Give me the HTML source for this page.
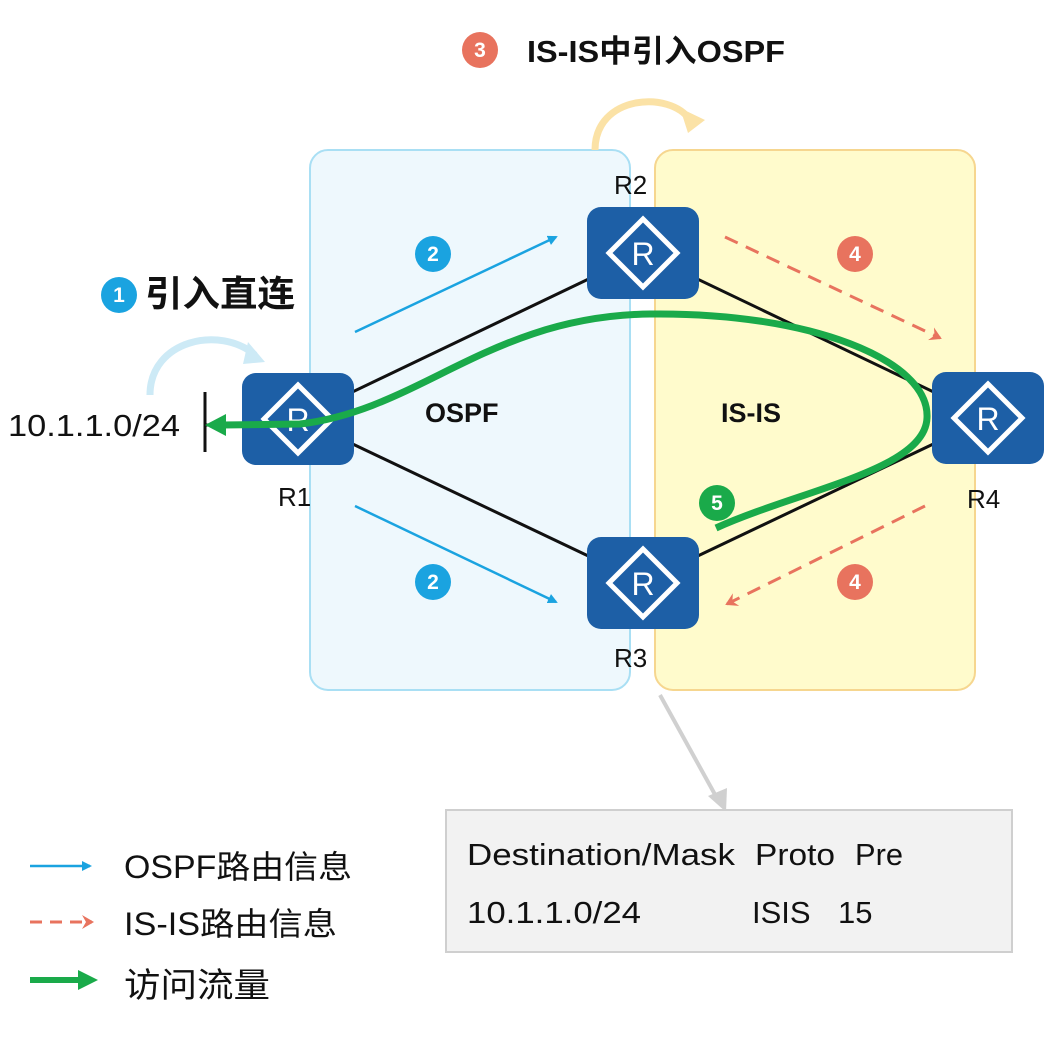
<!DOCTYPE html>
<html><head><meta charset="utf-8"><style>
body{margin:0;background:#fff;width:1061px;height:1034px;overflow:hidden}
text{font-family:"Liberation Sans","Noto Sans CJK SC",sans-serif}
</style></head><body>
<svg width="1061" height="1034" viewBox="0 0 1061 1034" xmlns="http://www.w3.org/2000/svg">
<defs>
<g id="rt">
<rect x="0" y="0" width="112" height="92" rx="14" fill="#1d5fa6"/>
<polygon points="56,12 90,46 56,80 22,46" fill="none" stroke="#fff" stroke-width="5"/>
<text x="56" y="58" font-size="32" fill="#fff" text-anchor="middle">R</text>
</g>
<marker id="ab" markerWidth="10" markerHeight="10" refX="8" refY="5" orient="auto" markerUnits="userSpaceOnUse"><path d="M0,0 L10,5 L0,10 z" fill="#1aa3e0"/></marker>
<marker id="ar" markerWidth="14" markerHeight="14" refX="10" refY="7" orient="auto" markerUnits="userSpaceOnUse"><path d="M0,0 L12,7 L0,14 L4,7z" fill="#e8735e"/></marker>
</defs>
<rect x="310" y="150" width="320" height="540" rx="18" fill="#eef8fd" stroke="#a9dff4" stroke-width="2"/>
<rect x="655" y="150" width="320" height="540" rx="18" fill="#fffbcc" stroke="#f6d68f" stroke-width="2"/>
<path d="M595,150 C595,95 670,90 690,120" fill="none" stroke="#fbe2a6" stroke-width="7"/>
<polygon points="680,108 705,120 688,133" fill="#fbe2a6"/>
<path d="M150,395 C150,340 220,325 255,355" fill="none" stroke="#cdeaf6" stroke-width="7"/>
<polygon points="248,342 265,362 243,364" fill="#cdeaf6"/>
<g stroke="#111" stroke-width="3">
<line x1="298" y1="418" x2="643" y2="253"/><line x1="298" y1="418" x2="643" y2="582"/>
<line x1="643" y1="253" x2="988" y2="418"/><line x1="643" y1="582" x2="988" y2="418"/>
<line x1="205" y1="392" x2="205" y2="452"/><line x1="205" y1="425" x2="245" y2="425"/>
</g>
<line x1="355" y1="332" x2="556" y2="237" stroke="#1aa3e0" stroke-width="2.5" marker-end="url(#ab)"/>
<line x1="355" y1="506" x2="556" y2="602" stroke="#1aa3e0" stroke-width="2.5" marker-end="url(#ab)"/>
<line x1="725" y1="237" x2="940" y2="338" stroke="#e8735e" stroke-width="3" stroke-dasharray="14,9" marker-end="url(#ar)"/>
<line x1="925" y1="506" x2="727" y2="604" stroke="#e8735e" stroke-width="3" stroke-dasharray="14,9" marker-end="url(#ar)"/>
<use href="#rt" x="587" y="207"/><use href="#rt" x="242" y="373"/><use href="#rt" x="587" y="537"/><use href="#rt" x="932" y="372"/>
<path d="M716,528 C800,490 925,470 927,418 C930,360 810,312 650,314 C490,316 420,410 300,424 L222,425" fill="none" stroke="#1aaa4a" stroke-width="7"/>
<polygon points="205,425 226,414 226,436" fill="#1aaa4a"/>
<g font-size="26" fill="#111">
<text x="614" y="194">R2</text><text x="278" y="506">R1</text><text x="614" y="667">R3</text><text x="967" y="508">R4</text>
<text x="8" y="436" font-size="31" textLength="172" lengthAdjust="spacingAndGlyphs">10.1.1.0/24</text>
<text x="425" y="422" font-weight="bold" font-size="27">OSPF</text>
<text x="721" y="422" font-weight="bold" font-size="27">IS-IS</text>
</g>
<g font-weight="bold" fill="#fff" font-size="21" text-anchor="middle">
<circle cx="119" cy="295" r="18" fill="#1aa3e0"/><text x="119" y="302">1</text>
<circle cx="433" cy="254" r="18" fill="#1aa3e0"/><text x="433" y="261">2</text>
<circle cx="433" cy="582" r="18" fill="#1aa3e0"/><text x="433" y="589">2</text>
<circle cx="480" cy="50" r="18" fill="#e8735e"/><text x="480" y="57">3</text>
<circle cx="855" cy="254" r="18" fill="#e8735e"/><text x="855" y="261">4</text>
<circle cx="855" cy="582" r="18" fill="#e8735e"/><text x="855" y="589">4</text>
<circle cx="717" cy="503" r="18" fill="#1aaa4a"/><text x="717" y="510">5</text>
</g>
<text x="145" y="306" font-size="36" font-weight="bold" fill="#111" textLength="150" lengthAdjust="spacingAndGlyphs">引入直连</text>
<text x="527" y="62" font-size="31" font-weight="bold" fill="#111" textLength="258" lengthAdjust="spacingAndGlyphs">IS-IS中引入OSPF</text>
<line x1="660" y1="695" x2="718" y2="800" stroke="#d0d0d0" stroke-width="4"/>
<polygon points="708,796 726,812 727,788" fill="#d0d0d0"/>
<rect x="446" y="810" width="566" height="142" fill="#f2f2f2" stroke="#cfcfcf" stroke-width="2"/>
<g font-size="31" fill="#111">
<text x="467" y="865" textLength="268" lengthAdjust="spacingAndGlyphs">Destination/Mask</text><text x="755" y="865" textLength="80" lengthAdjust="spacingAndGlyphs">Proto</text><text x="855" y="865" textLength="48" lengthAdjust="spacingAndGlyphs">Pre</text>
<text x="467" y="923" textLength="174" lengthAdjust="spacingAndGlyphs">10.1.1.0/24</text><text x="752" y="923">ISIS</text><text x="838" y="923">15</text>
</g>
<g font-size="32" fill="#111">
<text x="124" y="878" textLength="228" lengthAdjust="spacingAndGlyphs">OSPF路由信息</text><text x="124" y="935" textLength="213" lengthAdjust="spacingAndGlyphs">IS-IS路由信息</text><text x="124" y="997" font-size="34" textLength="146" lengthAdjust="spacingAndGlyphs">访问流量</text>
</g>
<line x1="30" y1="866" x2="90" y2="866" stroke="#1aa3e0" stroke-width="2.5" marker-end="url(#ab)"/>
<line x1="30" y1="922" x2="92" y2="922" stroke="#e8735e" stroke-width="3" stroke-dasharray="12,8" marker-end="url(#ar)"/>
<line x1="30" y1="980" x2="80" y2="980" stroke="#1aaa4a" stroke-width="6"/>
<polygon points="78,970 98,980 78,990" fill="#1aaa4a"/>
</svg>
</body></html>
